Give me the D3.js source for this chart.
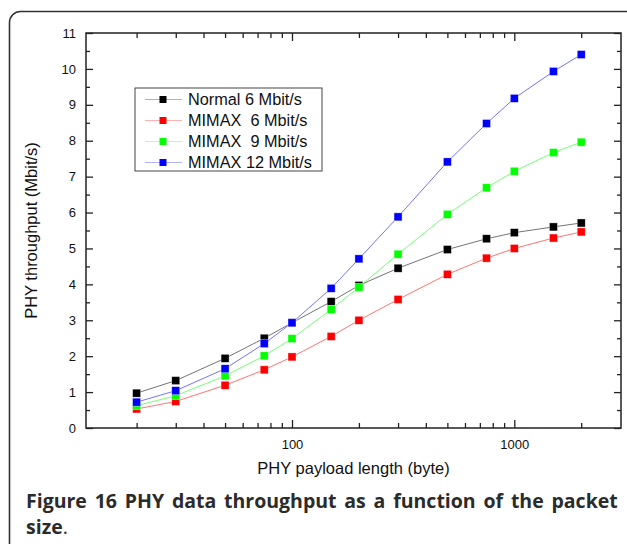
<!DOCTYPE html>
<html>
<head>
<meta charset="utf-8">
<script src="https://cdn.jsdelivr.net/npm/d3@7"></script>
<style>
  body { margin: 0; background: #fff; }
  svg { display: block; }
</style>
</head>
<body>
<div id="chart"></div>
<script>
// data
var sizes = [20, 30, 50, 75, 100, 150, 200, 300, 500, 750, 1000, 1500, 2000];
var normal6 = [0.97, 1.32, 1.94, 2.50, 2.93, 3.52, 3.97, 4.45, 4.97, 5.27, 5.44, 5.60, 5.71];
var mimax6 = [0.53, 0.74, 1.19, 1.62, 1.98, 2.55, 3.00, 3.58, 4.28, 4.73, 5.00, 5.29, 5.46];
var mimax9 = [0.62, 0.90, 1.45, 2.01, 2.49, 3.30, 3.92, 4.84, 5.95, 6.69, 7.15, 7.67, 7.96];
var mimax12 = [0.72, 1.04, 1.65, 2.35, 2.93, 3.89, 4.71, 5.88, 7.41, 8.48, 9.18, 9.93, 10.40];
var seriesNames = ["Normal 6 Mbit/s", "MIMAX\u00a0 6 Mbit/s", "MIMAX\u00a0 9 Mbit/s", "MIMAX 12 Mbit/s"];
var seriesColors = ["#000000", "#ff0000", "#00ff00", "#0000ff"];
var xMajor = [100, 1000];
var xMinor = [20, 30, 40, 50, 60, 70, 80, 90, 200, 300, 400, 500, 600, 700, 800, 900, 2000];
var yMajor = d3.range(0, 12, 1);
var yMinor = d3.range(0.5, 11, 1);

var series = [normal6, mimax6, mimax9, mimax12].map(function (vals, i) {
    return {
        name: seriesNames[i],
        color: seriesColors[i],
        values: sizes.map(function (s, j) { return { x: s, y: vals[j] }; })
    };
});

var W = 627, H = 544;
var margin = { top: 33, right: 6, bottom: 116, left: 86 },
    width = W - margin.left - margin.right,
    height = H - margin.top - margin.bottom;

var svg = d3.select("#chart").append("svg")
    .attr("width", W)
    .attr("height", H);

// outer rounded frame of the figure box
svg.append("rect")
    .attr("x", 9.5).attr("y", 11.5)
    .attr("width", 628).attr("height", 600)
    .attr("rx", 11)
    .attr("fill", "none")
    .attr("stroke", "#333")
    .attr("stroke-width", 1.6);

var g = svg.append("g")
    .attr("transform", "translate(" + margin.left + "," + margin.top + ")");

var x = d3.scaleLog().domain([11.84, 3020]).range([0, width]);
var y = d3.scaleLinear().domain([0, 11]).range([height, 0]);

var axisFont = "'Liberation Sans', Arial, sans-serif";

// bottom axis with labels, ticks pointing inwards
g.append("g")
    .attr("transform", "translate(0," + height + ")")
    .call(d3.axisBottom(x).tickValues(xMajor).tickSize(-8).tickPadding(12).tickFormat(d3.format("d")))
    .call(function (a) { a.select(".domain").remove(); })
    .selectAll("text").style("font-size", "13px").style("font-family", axisFont).attr("fill", "#111");
g.append("g")
    .attr("transform", "translate(0," + height + ")")
    .call(d3.axisBottom(x).tickValues(xMinor).tickSize(-5).tickFormat(""))
    .call(function (a) { a.select(".domain").remove(); });
// top axis mirror
g.append("g")
    .call(d3.axisTop(x).tickValues(xMajor).tickSize(-8).tickFormat(""))
    .call(function (a) { a.select(".domain").remove(); });
g.append("g")
    .call(d3.axisTop(x).tickValues(xMinor).tickSize(-5).tickFormat(""))
    .call(function (a) { a.select(".domain").remove(); });

// left axis
g.append("g")
    .call(d3.axisLeft(y).tickValues(yMajor).tickSize(-7).tickPadding(10).tickFormat(d3.format("d")))
    .call(function (a) { a.select(".domain").remove(); })
    .selectAll("text").style("font-size", "13px").style("font-family", axisFont).attr("fill", "#111");
g.append("g")
    .call(d3.axisLeft(y).tickValues(yMinor).tickSize(-4).tickFormat(""))
    .call(function (a) { a.select(".domain").remove(); });
// right axis mirror
g.append("g")
    .attr("transform", "translate(" + width + ",0)")
    .call(d3.axisRight(y).tickValues(yMajor).tickSize(-7).tickFormat(""))
    .call(function (a) { a.select(".domain").remove(); });
g.append("g")
    .attr("transform", "translate(" + width + ",0)")
    .call(d3.axisRight(y).tickValues(yMinor).tickSize(-4).tickFormat(""))
    .call(function (a) { a.select(".domain").remove(); });

g.selectAll(".tick line").attr("stroke", "#222").attr("stroke-width", 1.3);

// plot frame
g.append("rect")
    .attr("width", width).attr("height", height)
    .attr("fill", "none")
    .attr("stroke", "#222")
    .attr("stroke-width", 1.5);

// lines and markers
var line = d3.line()
    .x(function (d) { return x(d.x); })
    .y(function (d) { return y(d.y); });

var sg = g.selectAll("g.series")
    .data(series)
    .join("g")
    .attr("class", "series");

sg.append("path")
    .attr("d", function (d) { return line(d.values); })
    .attr("fill", "none")
    .attr("stroke", function (d) { return d.color; })
    .attr("stroke-opacity", 0.55)
    .attr("stroke-width", 1);

var ms = 8;
sg.selectAll("rect")
    .data(function (d) { return d.values.map(function (v) { return { x: v.x, y: v.y, color: d.color }; }); })
    .join("rect")
    .attr("x", function (d) { return x(d.x) - ms / 2; })
    .attr("y", function (d) { return y(d.y) - ms / 2; })
    .attr("width", ms).attr("height", ms)
    .attr("fill", function (d) { return d.color; })
    .attr("stroke", "#fff")
    .attr("stroke-opacity", 0.6)
    .attr("stroke-width", 0.6);

// axis titles
svg.append("text")
    .attr("x", margin.left + width / 2)
    .attr("y", 474)
    .attr("text-anchor", "middle")
    .style("font-family", axisFont)
    .style("font-size", "16.5px")
    .attr("fill", "#111")
    .text("PHY payload length (byte)");

svg.append("text")
    .attr("transform", "translate(37," + (margin.top + height / 2) + ") rotate(-90)")
    .attr("text-anchor", "middle")
    .style("font-family", axisFont)
    .style("font-size", "16.5px")
    .attr("fill", "#111")
    .text("PHY throughput (Mbit/s)");

// legend
var lg = svg.append("g").attr("transform", "translate(135,88)");
lg.append("rect")
    .attr("width", 187).attr("height", 83)
    .attr("fill", "#fff")
    .attr("stroke", "#444")
    .attr("stroke-width", 1);
var rows = lg.selectAll("g.row")
    .data(series)
    .join("g")
    .attr("class", "row")
    .attr("transform", function (d, i) { return "translate(0," + (11.5 + i * 21) + ")"; });
rows.append("line")
    .attr("x1", 10).attr("x2", 47)
    .attr("stroke", function (d) { return d.color; })
    .attr("stroke-opacity", 0.3)
    .attr("stroke-width", 1.2);
rows.append("rect")
    .attr("x", 28 - 3.5).attr("y", -3.5)
    .attr("width", 7).attr("height", 7)
    .attr("fill", function (d) { return d.color; });
rows.append("text")
    .attr("x", 53)
    .attr("dy", "0.36em")
    .style("font-family", axisFont)
    .style("font-size", "16.3px")
    .attr("fill", "#111")
    .text(function (d) { return d.name; });

// caption, first line justified
var capFont = "'Open Sans', 'Noto Sans', sans-serif";
var cap1 = svg.append("text")
    .attr("x", 26).attr("y", 508)
    .style("font-family", capFont)
    .style("font-size", "19.5px")
    .style("font-weight", "bold")
    .attr("fill", "#2b2b2b");
cap1.append("tspan").text("Figure 16 PHY data throughput as a function of the packet");
var words = 10;
var len = cap1.node().getComputedTextLength();
var extra = (589 - len) / (words - 1);
cap1.style("word-spacing", extra + "px");

var cap2 = svg.append("text")
    .attr("x", 26).attr("y", 534)
    .style("font-family", capFont)
    .style("font-size", "19.5px")
    .attr("fill", "#2b2b2b");
cap2.append("tspan").style("font-weight", "bold").text("size");
cap2.append("tspan").text(".");
</script>
</body>
</html>
